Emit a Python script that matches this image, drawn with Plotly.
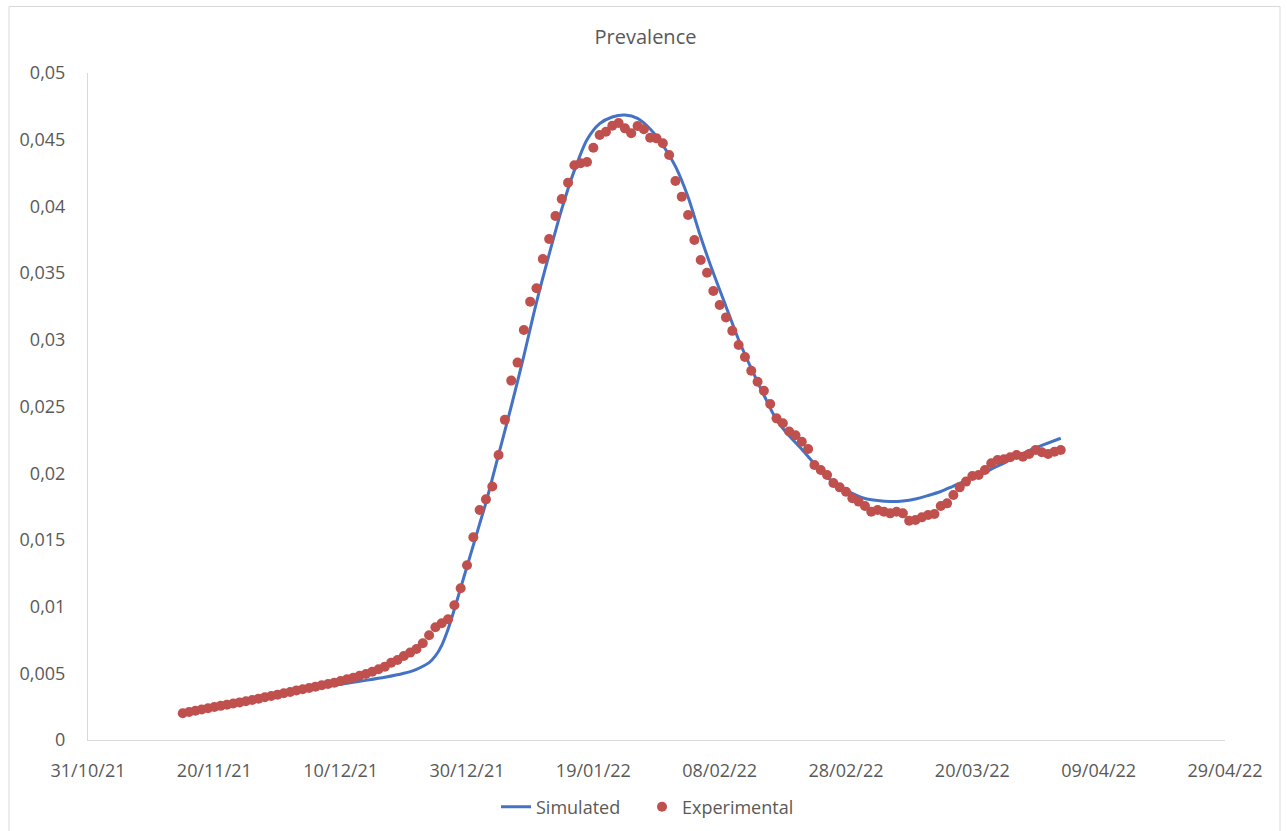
import pandas as pd
import plotly.graph_objects as go

# ---- data ----
exp_start = "2021-11-15"
experimental = [
    0.00200, 0.00210, 0.00219, 0.00228, 0.00238,
    0.00248, 0.00256, 0.00265, 0.00273, 0.00282,
    0.00290, 0.00300, 0.00310, 0.00320, 0.00330,
    0.00340, 0.00350, 0.00360, 0.00372, 0.00380,
    0.00390, 0.00400, 0.00410, 0.00420, 0.00430,
    0.00442, 0.00455, 0.00467, 0.00482, 0.00495,
    0.00512, 0.00530, 0.00550, 0.00580, 0.00600,
    0.00630, 0.00655, 0.00682, 0.00725, 0.00785,
    0.00845, 0.00875, 0.00905, 0.01010, 0.01137,
    0.01310, 0.01520, 0.01724, 0.01804, 0.01900,
    0.02136, 0.02400, 0.02694, 0.02829, 0.03073,
    0.03286, 0.03386, 0.03606, 0.03756, 0.03928,
    0.04055, 0.04178, 0.04308, 0.04323, 0.04333,
    0.04440, 0.04535, 0.04560, 0.04605, 0.04625,
    0.04585, 0.04548, 0.04603, 0.04578, 0.04515,
    0.04510, 0.04473, 0.04385, 0.04190, 0.04073,
    0.03936, 0.03748, 0.03598, 0.03503, 0.03366,
    0.03261, 0.03168, 0.03067, 0.02961, 0.02871,
    0.02768, 0.02686, 0.02618, 0.02519, 0.02411,
    0.02374, 0.02313, 0.02284, 0.02236, 0.02181,
    0.02061, 0.02024, 0.01987, 0.01927, 0.01894,
    0.01861, 0.01812, 0.01787, 0.01754, 0.01711,
    0.01724, 0.01711, 0.01699, 0.01711, 0.01699,
    0.01644, 0.01649, 0.01669, 0.01687, 0.01694,
    0.01754, 0.01774, 0.01837, 0.01894, 0.01937,
    0.01979, 0.01987, 0.02024, 0.02074, 0.02099,
    0.02104, 0.02119, 0.02136, 0.02124, 0.02144,
    0.02174, 0.02157, 0.02144, 0.02161, 0.02174,
]

sim_day_offsets = [0, 4, 8, 12, 16, 20, 24, 28, 32,
                   35, 37, 39, 40, 41, 42, 43, 44, 45, 46, 47, 48,
                   50, 52, 54, 56, 58, 60, 62, 64, 66, 68, 70, 72, 74, 76, 78,
                   80, 82, 84, 86, 88, 90, 92, 94, 96, 98, 100, 102, 104, 106,
                   108, 110, 112, 114, 116, 118, 120, 122, 124, 126, 128, 130,
                   132, 134, 136, 139]
simulated = [0.00205, 0.0024, 0.00275, 0.0031, 0.00345, 0.0038, 0.0041, 0.0044, 0.0047,
             0.0050, 0.0053, 0.0058, 0.0063, 0.0071, 0.0083, 0.0098, 0.0114, 0.0130, 0.0146, 0.0162, 0.0178,
             0.0214, 0.0250, 0.0288, 0.0328, 0.0364, 0.0398, 0.0427, 0.0450, 0.0462, 0.0467, 0.04685,
             0.0466, 0.0458, 0.0446, 0.0430,
             0.0407, 0.0377, 0.0350, 0.0325, 0.0300, 0.02785, 0.02586, 0.0240, 0.0228, 0.0218,
             0.0207, 0.0197, 0.0190, 0.01848,
             0.0181, 0.01795, 0.01788, 0.01792, 0.01807, 0.01833, 0.01863, 0.01904, 0.01945,
             0.01983, 0.02031, 0.02076,
             0.02125, 0.0217, 0.02208, 0.02262]

y_tickvals = [0, 0.005, 0.01, 0.015, 0.02, 0.025, 0.03, 0.035, 0.04, 0.045, 0.05]
y_ticktext = ["0", "0,005", "0,01", "0,015", "0,02", "0,025", "0,03", "0,035", "0,04", "0,045", "0,05"]
x_range = ["2021-10-31", "2022-04-29"]

exp_dates = pd.date_range(exp_start, periods=len(experimental), freq="D")
sim_dates = [pd.Timestamp(exp_start) + pd.Timedelta(days=d) for d in sim_day_offsets]

FONT = "Open Sans"
GREY = "#595959"
AXIS = "#D9D9D9"

fig = go.Figure()
fig.add_trace(go.Scatter(
    x=sim_dates, y=simulated, name="Simulated", mode="lines", legend="legend",
    line=dict(color="#4472C4", width=3, shape="spline", smoothing=0.8),
))
fig.add_trace(go.Scatter(
    x=exp_dates, y=experimental, name="Experimental", mode="markers", legend="legend2",
    marker=dict(color="#C0504D", size=10, line=dict(width=0)),
))

leg_common = dict(orientation="h", xref="container", yref="container", xanchor="left",
                  y=1 - 807 / 831, yanchor="middle",
                  font=dict(family=FONT, size=18, color=GREY), bgcolor="rgba(0,0,0,0)")

fig.update_layout(
    width=1287, height=831,
    margin=dict(l=88, r=62, t=73, b=91, autoexpand=False),
    paper_bgcolor="white", plot_bgcolor="white",
    font=dict(family=FONT, size=18, color=GREY),
    title=dict(text="Prevalence", x=645.5 / 1287, xref="container", xanchor="center",
               y=1 - 37 / 831, yref="container", yanchor="middle",
               font=dict(family=FONT, size=20, color=GREY)),
    showlegend=True,
    legend=dict(x=496 / 1287, **leg_common),
    legend2=dict(x=642 / 1287, **leg_common),
    xaxis=dict(type="date", range=x_range, tick0="2021-10-31", dtick=20 * 86400000,
               tickformat="%d/%m/%y", showgrid=False, zeroline=False, automargin=False,
               showline=True, linecolor=AXIS, linewidth=1, ticks="",
               ticklabelstandoff=14, tickfont=dict(size=18, color=GREY)),
    yaxis=dict(range=[0, 0.05], tickvals=y_tickvals, ticktext=y_ticktext, automargin=False,
               showgrid=False, zeroline=False, showline=True, linecolor=AXIS, linewidth=1,
               ticks="", ticklabelstandoff=18, tickfont=dict(size=18, color=GREY)),
    shapes=[dict(type="rect", xref="paper", yref="paper",
                 x0=(9 - 88) / 1137, x1=(1280 - 88) / 1137,
                 y0=(740 - 834) / 667, y1=(740 - 6.5) / 667,
                 line=dict(color=AXIS, width=1), fillcolor="rgba(0,0,0,0)", layer="below")],
)

fig.write_html("out.html")
